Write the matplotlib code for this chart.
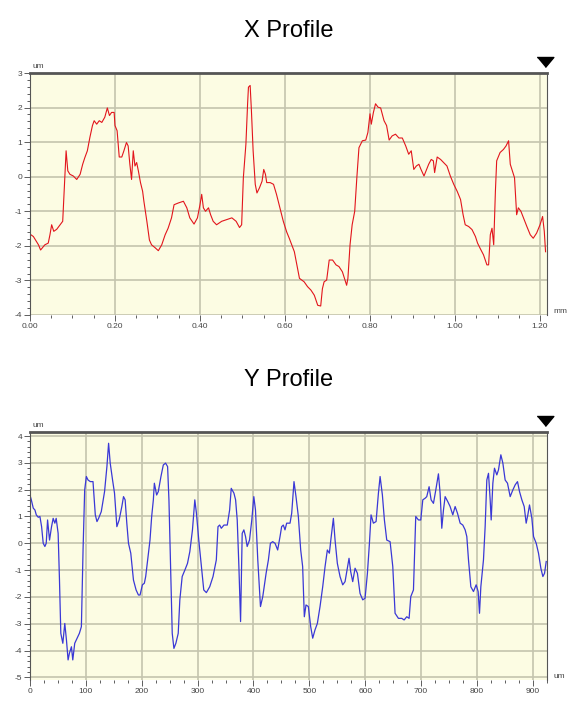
import numpy as np
import matplotlib
matplotlib.use('Agg')
import matplotlib.pyplot as plt
from matplotlib.ticker import MultipleLocator, FormatStrFormatter

# X profile (mm, um)
x_pos = [0.0, 0.008, 0.02, 0.025, 0.035, 0.043, 0.047, 0.051, 0.056, 0.063, 0.071, 0.077, 0.08, 0.085,
         0.089, 0.094, 0.102, 0.11, 0.118, 0.124, 0.129, 0.135, 0.141, 0.147, 0.151, 0.157, 0.163,
         0.169, 0.176, 0.182, 0.187, 0.192, 0.198, 0.2, 0.205, 0.21, 0.216, 0.221, 0.227, 0.231,
         0.235, 0.239, 0.243, 0.247, 0.251, 0.255, 0.26, 0.265, 0.268, 0.275, 0.281, 0.286, 0.294,
         0.302, 0.31, 0.318, 0.325, 0.333, 0.339, 0.349, 0.361, 0.369, 0.376, 0.386, 0.394, 0.4,
         0.404, 0.408, 0.413, 0.42, 0.425, 0.431, 0.439, 0.451, 0.463, 0.475, 0.485, 0.493, 0.498,
         0.502, 0.508, 0.512, 0.514, 0.518, 0.521, 0.525, 0.53, 0.534, 0.54, 0.546, 0.55, 0.554,
         0.557, 0.565, 0.573, 0.58, 0.588, 0.596, 0.604, 0.61, 0.622, 0.634, 0.645, 0.653, 0.661,
         0.669, 0.677, 0.684, 0.688, 0.692, 0.698, 0.704, 0.712, 0.72, 0.727, 0.735, 0.745, 0.748,
         0.753, 0.758, 0.764, 0.769, 0.774, 0.782, 0.79, 0.795, 0.8, 0.803, 0.808, 0.813, 0.819,
         0.825, 0.833, 0.839, 0.845, 0.852, 0.86, 0.868, 0.876, 0.884, 0.891, 0.897, 0.903, 0.909,
         0.915, 0.92, 0.927, 0.933, 0.938, 0.944, 0.949, 0.952, 0.958, 0.966, 0.973, 0.981, 0.989,
         0.997, 1.005, 1.013, 1.019, 1.024, 1.032, 1.04, 1.048, 1.053, 1.059, 1.067, 1.075, 1.079,
         1.083, 1.087, 1.091, 1.095, 1.098, 1.106, 1.114, 1.12, 1.126, 1.13, 1.135, 1.14, 1.145,
         1.149, 1.155, 1.161, 1.169, 1.177, 1.184, 1.192, 1.2, 1.206, 1.21, 1.213]
x_height = [-1.66, -1.73, -1.97, -2.12, -1.97, -1.92, -1.68, -1.39, -1.58, -1.52, -1.39, -1.29, -0.51, 0.75,
            0.17, 0.07, 0.02, -0.08, 0.07, 0.36, 0.55, 0.75, 1.14, 1.48, 1.62, 1.52, 1.62,
            1.57, 1.72, 1.99, 1.77, 1.86, 1.86, 1.48, 1.33, 0.57, 0.57, 0.75, 0.99, 0.89,
            0.36, -0.08, 0.75, 0.31, 0.41, 0.17, -0.17, -0.42, -0.71, -1.29, -1.83, -1.97, -2.05,
            -2.14, -1.97, -1.68, -1.49, -1.19, -0.81, -0.76, -0.71, -0.9, -1.19, -1.37, -1.19, -0.81,
            -0.51, -0.9, -1.0, -0.9, -1.1, -1.29, -1.39, -1.29, -1.24, -1.19, -1.29, -1.47, -1.39,
            -0.03, 0.94, 2.11, 2.59, 2.64, 1.91, 0.75, -0.22, -0.47, -0.32, -0.13, 0.21, 0.07,
            -0.17, -0.17, -0.22, -0.51, -0.9, -1.29, -1.6, -1.78, -2.17, -2.94, -3.04, -3.18, -3.28,
            -3.43, -3.72, -3.74, -3.24, -3.04, -2.99, -2.41, -2.41, -2.55, -2.6, -2.75, -3.14, -2.94,
            -1.97, -1.39, -1.0, -0.03, 0.84, 1.04, 1.06, 1.28, 1.82, 1.52, 1.86, 2.11, 2.01,
            1.99, 1.62, 1.48, 1.06, 1.18, 1.23, 1.12, 1.12, 0.89, 0.65, 0.75, 0.21, 0.31,
            0.36, 0.21, 0.02, 0.21, 0.36, 0.5, 0.46, 0.12, 0.57, 0.5, 0.41, 0.31, 0.02,
            -0.22, -0.42, -0.66, -1.1, -1.39, -1.44, -1.53, -1.73, -1.92, -2.07, -2.26, -2.55, -2.55,
            -1.68, -1.49, -1.97, -0.42, 0.46, 0.7, 0.79, 0.89, 1.04, 0.36, 0.17, -0.03, -1.1,
            -0.9, -1.0, -1.19, -1.44, -1.68, -1.78, -1.63, -1.39, -1.15, -1.58, -2.17]

# Y profile (um, um)
y_pos = [0, 2.4, 5.9, 8.9, 11.3, 14.8, 17.8, 20.8, 23.7, 26.7, 29.1, 31.5, 35, 38.6, 41.5, 44.5,
         46.9, 50.4, 52.8, 55.2, 58.8, 62.3, 65.3, 68.2, 70.6, 74.2, 76.6, 80.1, 84.3, 88.4, 92,
         95, 97.9, 100.9, 103.9, 108, 112.8, 116.9, 119.9, 122.8, 127.6, 133.5, 137.7, 140.7,
         143.6, 147.8, 151.3, 155.5, 159.6, 164.4, 167.4, 170.3, 173.3, 176.3, 180.4, 185.2,
         189.9, 194.1, 197, 201.2, 204.7, 207.1, 210.7, 214.8, 217.8, 220.8, 222.6, 226.7, 229.7,
         234.4, 238.6, 242.7, 246.3, 248.7, 251.6, 254.6, 257.6, 261.1, 265.3, 268.2, 272.4,
         277.2, 281.9, 286.1, 290.8, 295, 297.9, 302.1, 306.8, 311, 315.7, 321.7, 327.6, 333.5,
         336.5, 339.5, 342.4, 347.2, 353.1, 357.3, 360.2, 365, 368, 370.9, 373.9, 376.9, 379.8,
         382.8, 385.8, 388.7, 392.9, 397, 400.6, 403.6, 407.7, 412.5, 416.6, 422.6, 426.7, 430.3,
         434.4, 438.6, 443.3, 447.5, 450.4, 453.4, 456.4, 459.4, 465.4, 468.4, 472.5, 476.1,
         480.3, 484.5, 488, 491, 494, 498.2, 502.4, 506, 510.1, 514.3, 519.1, 523.9, 528.1,
         532.2, 535.8, 538.8, 543, 546, 550.1, 554.9, 559.7, 563.9, 566.9, 571, 574, 577.6,
         581.8, 586, 590.7, 595.5, 599.7, 603.9, 607.5, 610.4, 614.6, 619.4, 623.6, 626.6, 630.7,
         634.3, 638.5, 644.5, 649.3, 653.4, 659.4, 665.4, 669.6, 674.3, 678.5, 681.5, 686.3,
         690.4, 695.2, 699.4, 703, 707.2, 710.1, 714.3, 717.9, 722.1, 726.3, 731, 734, 737, 740,
         743, 747.8, 751.9, 756.7, 760.9, 765.1, 769.9, 774.6, 778.8, 781.8, 784.8, 789, 793.7,
         798.5, 802.1, 804.5, 806.9, 811.6, 814.6, 817.6, 820.6, 823.6, 825.4, 828.4, 831.3,
         835.5, 838.5, 842.7, 846.3, 850.4, 854.6, 859.4, 864.2, 868.4, 872.5, 876.1, 880.3,
         884.5, 888, 891, 894, 898.2, 901.2, 906, 910.1, 914.3, 917.9, 920.9, 923.9]
y_height = [1.8, 1.62, 1.31, 1.24, 1.06, 0.97, 1.0, 0.62, 0.0, -0.12, 0.0, 0.87, 0.12, 0.62, 0.93, 0.75,
            0.93, 0.37, -1.37, -3.36, -3.73, -2.99, -3.61, -4.35, -4.1, -3.86, -4.35, -3.73, -3.54, -3.36, -3.11,
            -0.25, 1.99, 2.49, 2.36, 2.3, 2.3, 1.06, 0.81, 0.93, 1.18, 1.93, 2.86, 3.73,
            2.99, 2.36, 1.87, 0.62, 0.87, 1.37, 1.74, 1.62, 0.75, 0.0, -0.37, -1.37,
            -1.74, -1.93, -1.93, -1.55, -1.49, -1.24, -0.62, 0.12, 1.0, 1.62, 2.24, 1.8, 1.93,
            2.49, 2.92, 2.99, 2.86, 1.62, -0.87, -3.36, -3.92, -3.73, -3.36, -2.11, -1.24,
            -1.0, -0.75, -0.31, 0.5, 1.62, 1.12, 0.12, -0.87, -1.74, -1.84, -1.62, -1.24, -0.62,
            0.62, 0.68, 0.56, 0.68, 0.68, 1.24, 2.05, 1.87, 1.62, 0.87, -0.87, -2.92, 0.37,
            0.5, 0.25, -0.12, 0.12, 0.87, 1.74, 1.24, -0.62, -2.36, -1.99, -1.12, -0.62, 0.0,
            0.06, 0.0, -0.25, 0.25, 0.62, 0.68, 0.5, 0.75, 0.75, 1.12, 2.3, 1.74,
            1.0, -0.25, -0.87, -2.74, -2.3, -2.36, -3.11, -3.54, -3.23, -2.99, -2.36, -1.62, -0.87,
            -0.25, -0.37, 0.19, 0.93, 0.12, -0.75, -1.24, -1.55, -1.43, -1.06, -0.56, -1.06, -1.43,
            -0.93, -1.12, -1.87, -2.11, -2.05, -1.12, 0.0, 1.06, 0.75, 0.81, 1.87, 2.49, 1.8,
            0.87, 0.12, 0.06, -0.87, -2.61, -2.8, -2.8, -2.86, -2.74, -2.8, -1.99, -1.74,
            1.0, 0.87, 0.87, 1.62, 1.68, 1.74, 2.11, 1.62, 1.49, 1.99, 2.59, 1.87, 0.56, 1.24,
            1.74, 1.55, 1.37, 1.06, 1.37, 1.12, 0.75, 0.68, 0.5, 0.25, -0.62, -1.62, -1.8,
            -1.55, -1.8, -2.61, -1.62, -0.62, 0.62, 2.36, 2.61, 1.62, 0.87, 2.24, 2.8,
            2.55, 2.74, 3.3, 2.99, 2.36, 2.24, 1.74, 1.99, 2.18, 2.3, 1.93, 1.62,
            1.37, 0.75, 1.06, 1.43, 0.93, 0.25, 0.0, -0.37, -0.93, -1.24, -1.12, -0.68]

plt.rcParams['font.family'] = ['Liberation Sans', 'DejaVu Sans']
plt.rcParams['axes.unicode_minus'] = False

fig = plt.figure(figsize=(5.72, 7.02), dpi=100)
ax1 = fig.add_axes([0.0524, 0.5513, 0.9036, 0.3447])
ax2 = fig.add_axes([0.0524, 0.0313, 0.9036, 0.3533])

bg = '#fcfce3'
grid_col = '#c4c4ae'
tri = [(-1, 0.6), (1, 0.6), (0, -0.6)]


def style_axes(ax, major_x, minor_x, xfmt, xunit, title, tpad):
    ax.set_facecolor(bg)
    ax.xaxis.set_major_locator(MultipleLocator(major_x))
    ax.xaxis.set_minor_locator(MultipleLocator(minor_x))
    ax.yaxis.set_major_locator(MultipleLocator(1))
    ax.yaxis.set_minor_locator(MultipleLocator(0.2))
    ax.xaxis.set_major_formatter(FormatStrFormatter(xfmt))
    ax.grid(True, which='major', color=grid_col, lw=1.2)
    ax.set_axisbelow(True)
    ax.tick_params(which='both', direction='out', colors='#444444', labelsize=6, width=0.6)
    ax.tick_params(which='major', length=4, pad=1.5)
    ax.tick_params(which='minor', length=2.5)
    for s in ax.spines.values():
        s.set_color('#555555')
        s.set_linewidth(0.8)
    ax.spines['top'].set_linewidth(2.0)
    ax.spines['bottom'].set_visible(False)
    ax.text(0.005, 1.012, 'um', transform=ax.transAxes, fontsize=6, color='#444444',
            ha='left', va='bottom')
    ax.text(1.012, 0.0, xunit, transform=ax.transAxes, fontsize=6, color='#444444',
            ha='left', va='bottom')
    # triangle marker at the top right corner
    ax.plot([0.997], [1.045], marker=tri, ms=12, color='black', transform=ax.transAxes,
            clip_on=False)
    ax.set_title(title, fontsize=17, pad=tpad)


ax1.plot(x_pos, x_height, color='#e2151c', lw=0.8)
ax1.set_xlim(0, 1.216)
ax1.set_ylim(-4, 3)
style_axes(ax1, 0.2, 0.05, '%.2f', 'mm', 'X Profile', 26)

ax2.plot(y_pos, y_height, color='#3a38d6', lw=0.9)
ax2.set_xlim(0, 925)
ax2.set_ylim(-5.1, 4.15)
style_axes(ax2, 100, 25, '%d', 'um', 'Y Profile', 33)

fig.savefig('out.png', dpi=100)
